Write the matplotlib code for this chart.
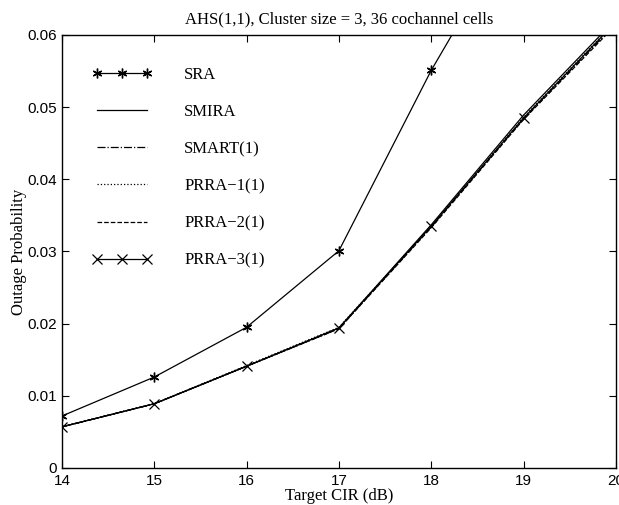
import numpy as np
import matplotlib.pyplot as plt

# target CIR values (dB)
cir = [14, 15, 16, 17, 18, 19, 20]

# outage probability per scheme
sra = [0.0072, 0.0126, 0.0195, 0.0301, 0.0551, 0.0770, 0.0990]
smira = [0.0057, 0.0089, 0.0141, 0.0194, 0.0337, 0.0489, 0.0622]
smart1 = [0.0057, 0.0089, 0.0141, 0.0193, 0.0334, 0.0484, 0.0616]
prra1 = [0.0057, 0.0089, 0.0142, 0.0195, 0.0335, 0.0486, 0.0619]
prra2 = [0.0057, 0.0089, 0.0141, 0.0193, 0.0333, 0.0483, 0.0614]
prra3 = [0.0057, 0.0089, 0.0141, 0.0194, 0.0335, 0.0485, 0.0618]

serif = ['Liberation Serif', 'DejaVu Serif']
sans = ['Liberation Sans', 'DejaVu Sans']

fig = plt.figure(figsize=(6.19, 5.05), dpi=100)
ax = fig.add_axes([0.100, 0.0733, 0.895, 0.8574])

lw = 0.9
ax.plot(cir, sra, color='black', lw=lw, marker=(6, 2, 0), ms=7, mew=1.0, label='SRA')
ax.plot(cir, smira, color='black', lw=lw, ls='-', label='SMIRA')
ax.plot(cir, smart1, color='black', lw=lw, ls='-.', label='SMART(1)')
ax.plot(cir, prra1, color='black', lw=lw, ls=':', label='PRRA\u22121(1)')
ax.plot(cir, prra2, color='black', lw=lw, ls='--', label='PRRA\u22122(1)')
ax.plot(cir, prra3, color='black', lw=lw, marker='x', ms=7, mew=0.9, label='PRRA\u22123(1)')

ax.set_xlim(14, 20)
ax.set_ylim(0, 0.06)
ax.set_xticks(np.arange(14, 21, 1))
ax.set_yticks(np.arange(0, 0.061, 0.01))
ax.set_yticklabels(['0', '0.01', '0.02', '0.03', '0.04', '0.05', '0.06'])
ax.tick_params(direction='in', top=True, right=True, length=5, width=0.8, labelsize=11)
ax.tick_params(axis='x', pad=4)
for lab in ax.get_xticklabels() + ax.get_yticklabels():
    lab.set_family(sans)
for sp in ax.spines.values():
    sp.set_linewidth(1.0)

ax.set_title('AHS(1,1), Cluster size = 3, 36 cochannel cells', family=serif, fontsize=12, pad=8)
ax.set_xlabel('Target CIR (dB)', family=serif, fontsize=12, labelpad=0)
ax.set_ylabel('Outage Probability', family=serif, fontsize=12, labelpad=0)

leg = ax.legend(loc='upper left', frameon=False, handlelength=3.6, handletextpad=1.9,
                labelspacing=1.27, numpoints=3, prop={'family': serif, 'size': 12},
                borderaxespad=0.6, bbox_to_anchor=(0.025, 0.965))

fig.savefig('out.png', dpi=100)
